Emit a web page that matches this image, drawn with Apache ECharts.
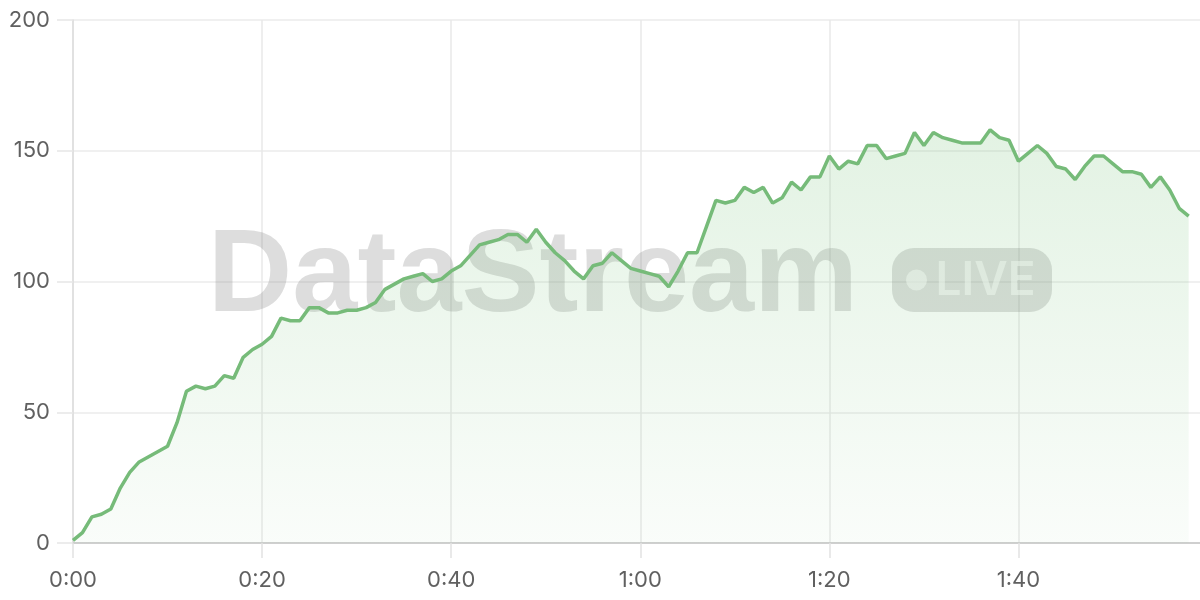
<!DOCTYPE html>
<html>
<head>
<meta charset="utf-8">
<script src="https://cdn.jsdelivr.net/npm/echarts@6/dist/echarts.min.js"></script>
<style>
html,body{margin:0;padding:0;background:#fff;}
#chart{width:1200px;height:600px;}
</style>
</head>
<body>
<div id="chart"></div>
<script>
// values per second (x = seconds from 0:00)
const values = [
  1, 4, 10, 11, 13, 21, 27, 31, 33, 35,
  37, 46, 58, 60, 59, 60, 64, 63, 71, 74,
  76, 79, 86, 85, 85, 90, 90, 88, 88, 89,
  89, 90, 92, 97, 99, 101, 102, 103, 100, 101,
  104, 106, 110, 114, 115, 116, 118, 118, 115, 120,
  115, 111, 108, 104, 101, 106, 107, 111, 108, 105,
  104, 103, 102, 98, 104, 111, 111, 121, 131, 130,
  131, 136, 134, 136, 130, 132, 138, 135, 140, 140,
  148, 143, 146, 145, 152, 152, 147, 148, 149, 157,
  152, 157, 155, 154, 153, 153, 153, 158, 155, 154,
  146, 149, 152, 149, 144, 143, 139, 144, 148, 148,
  145, 142, 142, 141, 136, 140, 135, 128, 125
];
const yTicks = [0, 50, 100, 150, 200];
const xTickStep = 20;
const watermarkText = 'DataStream';
const badgeText = 'LIVE';

function fmt(v) {
  const m = Math.floor(v / 60);
  const s = Math.round(v % 60);
  return m + ':' + (s < 10 ? '0' + s : s);
}

const seriesData = values.map((v, i) => [i, v]);

const chart = echarts.init(document.getElementById('chart'), null, {renderer: 'canvas'});
const labelFont = 'Inter, "Noto Sans", sans-serif';
chart.setOption({
  animation: false,
  backgroundColor: '#ffffff',
  grid: {left: 73, right: 0, top: 20, bottom: 57, containLabel: false},
  xAxis: {
    type: 'value',
    min: 0,
    max: 119.2,
    interval: xTickStep,
    axisLine: {show: true, lineStyle: {color: '#cfcfcf', width: 2}},
    axisTick: {show: true, length: 15, lineStyle: {color: '#e2e2e2', width: 1.5}},
    axisLabel: {
      show: true, margin: 26, color: '#606060', fontSize: 22, fontFamily: labelFont,
      showMaxLabel: false,
      formatter: v => fmt(v)
    },
    splitLine: {show: true, showMaxLine: false, lineStyle: {color: '#e8e8e8', width: 1.5}}
  },
  yAxis: {
    type: 'value',
    min: yTicks[0],
    max: yTicks[yTicks.length - 1],
    interval: yTicks[1] - yTicks[0],
    axisLine: {show: true, lineStyle: {color: '#dcdcdc', width: 1.5}},
    axisTick: {show: true, length: 16, lineStyle: {color: '#e6e6e6', width: 1.5}},
    axisLabel: {show: true, margin: 23, color: '#606060', fontSize: 22, fontFamily: labelFont},
    splitLine: {show: true, lineStyle: {color: '#ebebeb', width: 1.5}}
  },
  graphic: [
    {
      type: 'text', z: 1, silent: true,
      style: {
        text: watermarkText, x: 533, y: 279,
        textAlign: 'center', textVerticalAlign: 'middle',
        font: '900 117px "Liberation Sans", Arial, sans-serif',
        fill: 'rgba(120,120,120,0.25)'
      }
    },
    {
      type: 'rect', z: 1, silent: true,
      shape: {x: 892, y: 248, width: 160, height: 64, r: 22},
      style: {fill: 'rgba(120,120,120,0.25)'}
    },
    {
      type: 'circle', z: 1, silent: true,
      shape: {cx: 916.5, cy: 280, r: 10.5},
      style: {fill: 'rgba(255,255,255,0.55)'}
    },
    {
      type: 'text', z: 1, silent: true,
      style: {
        text: badgeText, x: 985.5, y: 281,
        textAlign: 'center', textVerticalAlign: 'middle',
        font: '600 46px Inter, "Liberation Sans", sans-serif',
        fill: 'rgba(255,255,255,0.55)'
      }
    }
  ],
  series: [{
    type: 'line',
    data: seriesData,
    showSymbol: false,
    symbol: 'none',
    z: 3,
    lineStyle: {color: '#76bb79', width: 3.5},
    itemStyle: {color: '#76bb79'},
    areaStyle: {
      color: new echarts.graphic.LinearGradient(0, 0, 0, 1, [
        {offset: 0, color: 'rgba(129,199,132,0.32)'},
        {offset: 1, color: 'rgba(129,199,132,0.06)'}
      ])
    }
  }]
});
</script>
</body>
</html>
